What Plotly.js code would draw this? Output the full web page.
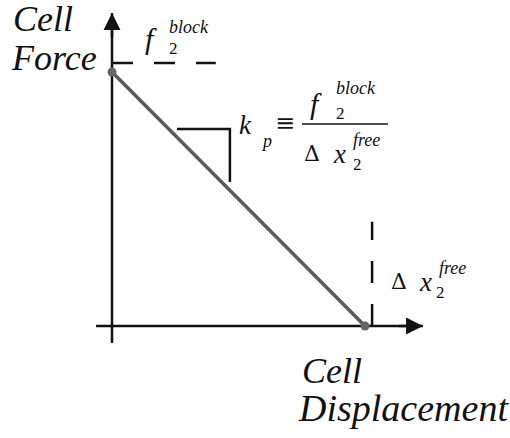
<!DOCTYPE html>
<html>
<head>
<meta charset="utf-8">
<script src="https://cdn.plot.ly/plotly-3.0.1.min.js"></script>
<style>html,body{margin:0;padding:0;background:#fff;}#chart{width:510px;height:438px;}</style>
</head>
<body>
<div id="chart"></div>
<script>
// Schematic data (normalized: blocked force = 1, free displacement = 1)
const displacement = [0, 1];
const force = [1, 0];
// guide lines
const blockGuideX = [0, 0.41];
const blockGuideY = [1.035, 1.035];
const freeGuideX = [1.028, 1.028];
const freeGuideY = [0, 0.41];
// slope indicator
const slopeX = [0.257, 0.466, 0.466];
const slopeY = [0.776, 0.776, 0.567];
// axes extents (tail, tip)
const xAxisExtent = [-0.063, 1.229];
const yAxisExtent = [-0.067, 1.232];

const W = 510, H = 438;
function lbl(text, px, py, size, fam) {
  return {text: text, xref: 'paper', yref: 'paper', x: px / W, y: 1 - py / H,
    xanchor: 'left', yanchor: 'middle', showarrow: false,
    font: {family: fam || 'Liberation Serif', size: size, color: '#111'}};
}

const traces = [
  {x: blockGuideX, y: blockGuideY, mode: 'lines', line: {color: '#111', width: 2.5, dash: '21px,21px'}},
  {x: freeGuideX, y: freeGuideY, mode: 'lines', line: {color: '#111', width: 2.5, dash: '22px,21px'}},
  {x: slopeX, y: slopeY, mode: 'lines', line: {color: '#111', width: 2.5}},
  {x: xAxisExtent, y: [0, 0], mode: 'lines', line: {color: '#111', width: 2.5}},
  {x: [0, 0], y: yAxisExtent, mode: 'lines', line: {color: '#111', width: 2.5}},
  {x: displacement, y: force, mode: 'lines+markers', line: {color: '#5a5a5a', width: 3.5},
   marker: {color: '#666', size: 9}}
];

const annotations = [
  {x: xAxisExtent[1], y: 0, ax: xAxisExtent[1] - 0.1, ay: 0, xref: 'x', yref: 'y', axref: 'x', ayref: 'y',
   text: '', showarrow: true, arrowhead: 2, arrowsize: 1.35, arrowwidth: 2.5, arrowcolor: '#111'},
  {x: 0, y: yAxisExtent[1], ax: 0, ay: yAxisExtent[1] - 0.1, xref: 'x', yref: 'y', axref: 'x', ayref: 'y',
   text: '', showarrow: true, arrowhead: 2, arrowsize: 1.35, arrowwidth: 2.5, arrowcolor: '#111'},
  // axis titles
  lbl('<i>Cell</i>', 11, 19, 36),
  lbl('<i>Force</i>', 9, 58, 36),
  lbl('<i>Cell</i>', 300, 371, 36),
  lbl('<i>Displacement</i>', 296, 408, 38),
  // f2 block (top)
  lbl('<i>f</i>', 143, 38, 30),
  lbl('<i>block</i>', 167, 27, 18),
  lbl('2', 167, 48, 17),
  // k_p formula
  lbl('<i>k</i>', 237, 125, 27),
  lbl('<i>p</i>', 259, 141, 18),
  lbl('&#8801;', 273, 123, 24, 'DejaVu Serif'),
  lbl('<i>f</i>', 308, 103, 30),
  lbl('<i>block</i>', 334, 88, 18),
  lbl('2', 334, 113, 17),
  lbl('&#916;', 302, 153, 22, 'DejaVu Serif'),
  lbl('<i>x</i>', 331, 154, 27),
  lbl('<i>free</i>', 351, 140, 18),
  lbl('2', 351, 164, 17),
  // right delta x label
  lbl('&#916;', 389, 281, 22, 'DejaVu Serif'),
  lbl('<i>x</i>', 417, 282, 27),
  lbl('<i>free</i>', 437, 268, 18),
  lbl('2', 434, 292, 17)
];

const layout = {
  width: W, height: H,
  margin: {l: 0, r: 0, t: 0, b: 0},
  showlegend: false,
  xaxis: {range: [-0.4427, 1.5731], visible: false},
  yaxis: {range: [-0.4409, 1.2835], visible: false},
  shapes: [
    {type: 'line', xref: 'paper', yref: 'paper', x0: 302 / W, x1: 388 / W, y0: 1 - 124 / H, y1: 1 - 124 / H,
     line: {color: '#111', width: 1.5}}
  ],
  annotations: annotations
};

Plotly.newPlot('chart', traces, layout, {staticPlot: true});
</script>
</body>
</html>
